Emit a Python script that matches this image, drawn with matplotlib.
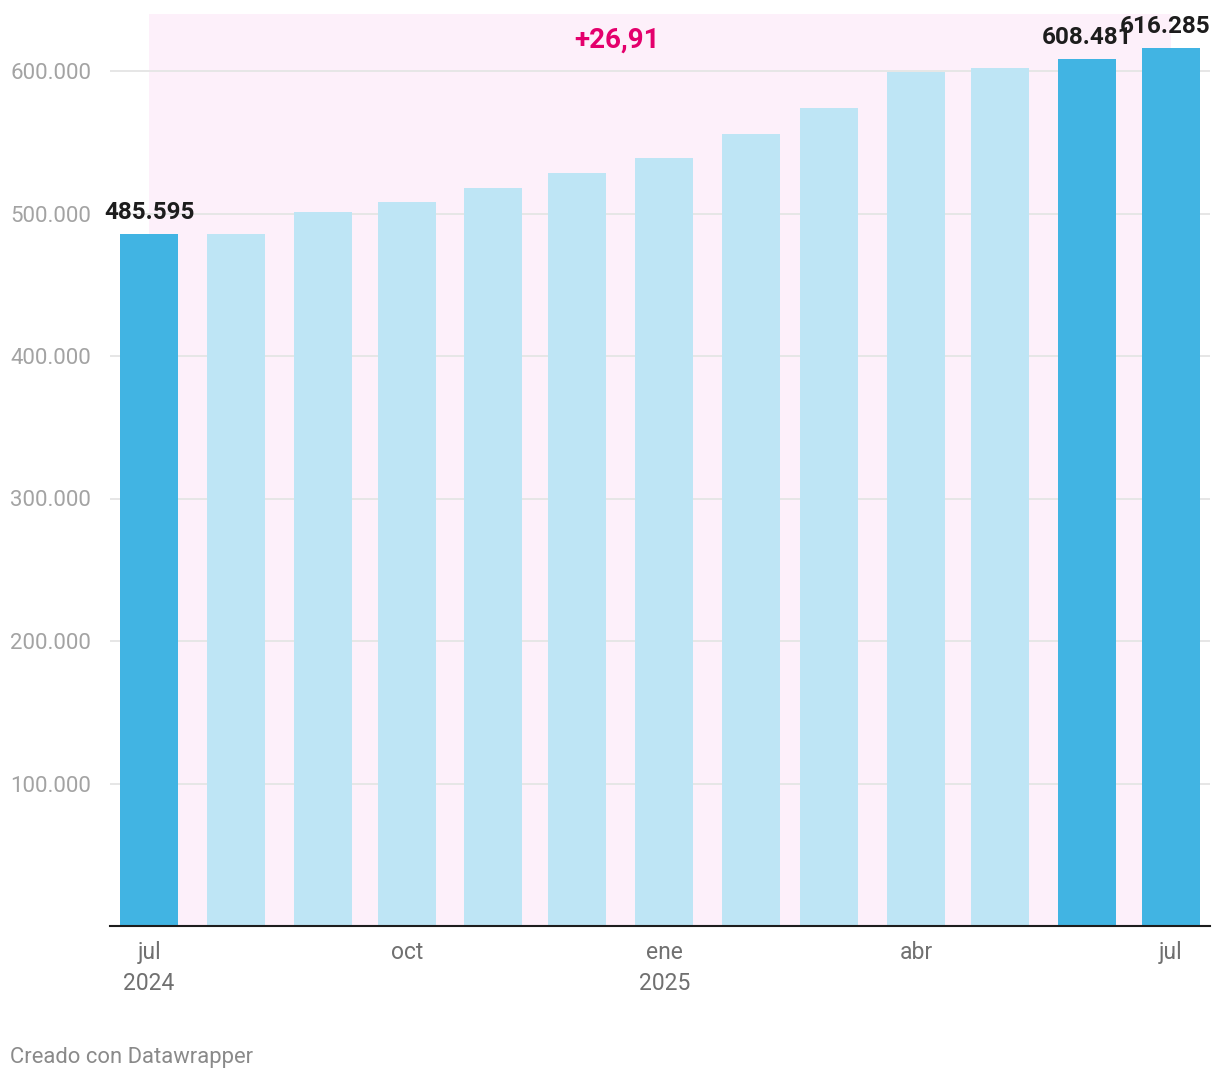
import datetime
import matplotlib
matplotlib.use('Agg')
import matplotlib.pyplot as plt
import matplotlib.dates as mdates

# Datos
meses = [datetime.date(2024, m, 1) for m in range(7, 13)] + \
        [datetime.date(2025, m, 1) for m in range(1, 8)]
valores = [485595, 485500, 501100, 508100, 517900, 528400, 539000,
           555800, 574000, 599300, 602100, 608481, 616285]
destacados = [0, 11, 12]          # barras en azul fuerte
etiquetas = {0: '485.595', 11: '608.481', 12: '616.285'}
ticks_x = [datetime.date(2024, 7, 1), datetime.date(2024, 10, 1),
           datetime.date(2025, 1, 1), datetime.date(2025, 4, 1),
           datetime.date(2025, 7, 1)]
ticks_x_txt = ['jul\n2024', 'oct', 'ene\n2025', 'abr', 'jul']
ticks_y = [100000, 200000, 300000, 400000, 500000, 600000]
ticks_y_txt = ['100.000', '200.000', '300.000', '400.000', '500.000', '600.000']
anotacion = '+26,91'

# Colores
AZUL = '#41b4e3'
AZUL_CLARO = '#bee5f5'
ROSA = '#fdf0fa'
MAGENTA = '#e4006c'

plt.rcParams['font.family'] = ['Roboto', 'DejaVu Sans']

fig = plt.figure(figsize=(12.2, 10.8), dpi=100)
ax = fig.add_axes([110 / 1220, 154 / 1080, 1100 / 1220, 912 / 1080])

x = mdates.date2num(meses)
colores = [AZUL if i in destacados else AZUL_CLARO for i in range(len(meses))]
ax.bar(x, valores, width=20.7, color=colores, zorder=2)

# sombreado del periodo
ax.axvspan(x[0], x[-1], color=ROSA, zorder=0.1, lw=0)

for i, txt in etiquetas.items():
    dx = -4 if i == len(meses) - 1 else 0
    ax.annotate(txt, (x[i], valores[i]), xytext=(dx, 7),
                textcoords='offset points', ha='center', va='bottom',
                fontsize=17.5, fontweight='bold', color='#1d1d1d', zorder=5)

ax.text(mdates.date2num(datetime.date(2024, 12, 15)), 621500, anotacion,
        ha='center', va='center', fontsize=20, fontweight='bold',
        color=MAGENTA, zorder=5)

ax.set_xlim(x[0] - 14, x[-1] + 14)
ax.set_ylim(0, 640000)

ax.set_xticks(mdates.date2num(ticks_x))
ax.set_xticklabels(ticks_x_txt, fontsize=16.5, color='#707070',
                   linespacing=1.42, va='top')
ax.set_yticks(ticks_y)
ax.set_yticklabels(ticks_y_txt, fontsize=16, color='#a3a3a3', ha='left')
ax.tick_params(axis='x', length=0, pad=11)
ax.tick_params(axis='y', length=0, pad=72)

ax.set_axisbelow(True)
ax.yaxis.grid(True, color='#e6e6e6', lw=1.4)
for s in ['top', 'right', 'left']:
    ax.spines[s].set_visible(False)
ax.spines['bottom'].set_color('#1d1d1d')
ax.spines['bottom'].set_linewidth(1.5)
ax.spines['bottom'].set_zorder(3)

fig.text(10 / 1220, 1 - 1057 / 1080, 'Creado con Datawrapper',
         fontsize=15.8, color='#8a8a8a', ha='left', va='center')

fig.savefig('out.png', dpi=100)
